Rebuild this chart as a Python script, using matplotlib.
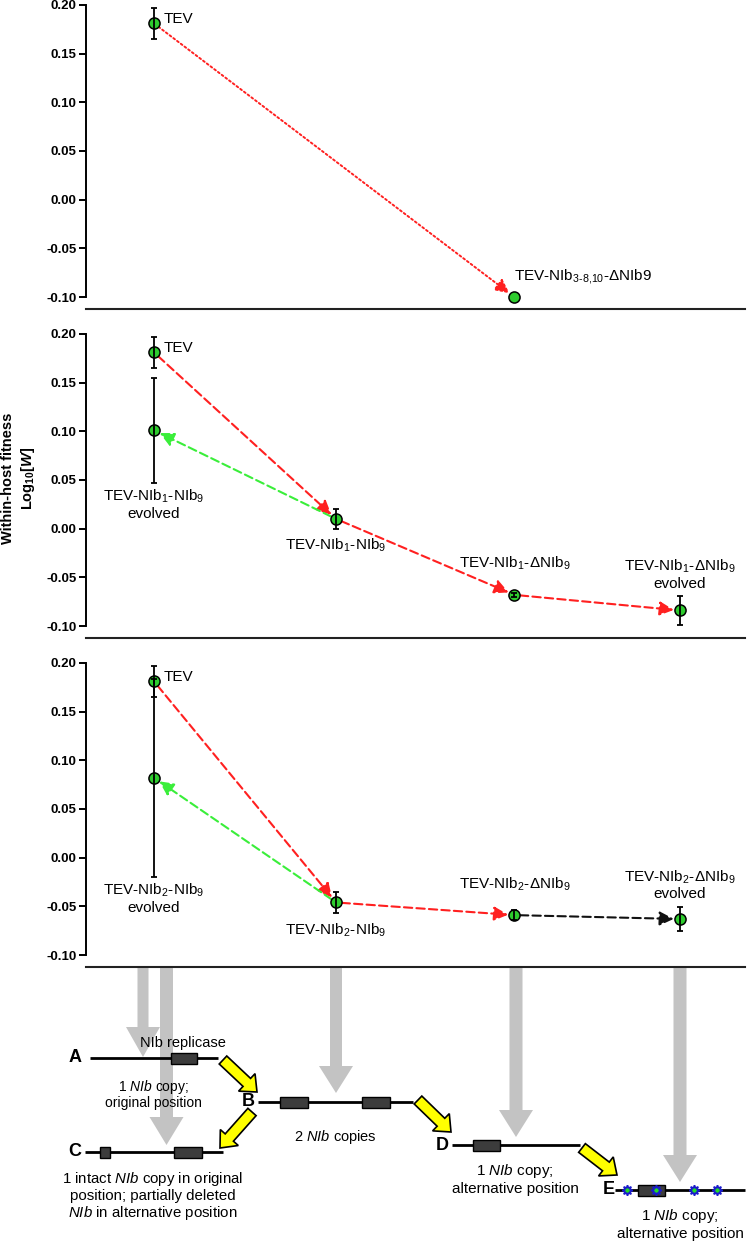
import numpy as np
import matplotlib
matplotlib.use('Agg')
import matplotlib.pyplot as plt
from matplotlib.patches import FancyArrow, Rectangle

plt.rcParams['font.family'] = ['Liberation Sans', 'DejaVu Sans']
plt.rcParams['mathtext.fontset'] = 'custom'
plt.rcParams['mathtext.rm'] = 'Liberation Sans'
plt.rcParams['mathtext.it'] = 'Liberation Sans:italic'
plt.rcParams['mathtext.bf'] = 'Liberation Sans:bold'
plt.rcParams['mathtext.bfit'] = 'Liberation Sans:italic:bold'

# x positions of the genotype columns
x_pos = [1.0, 2.0, 2.98, 3.89]

# panel 1 : TEV -> TEV-NIb3-8,10-dNIb9
p1_x = [x_pos[0], x_pos[2]]
p1_y = [0.181, -0.100]
p1_err = [0.016, 0.0]

# panel 2 : TEV, NIb1-NIb9 evolved, NIb1-NIb9, NIb1-dNIb9, NIb1-dNIb9 evolved
p2_x = [x_pos[0], x_pos[0], x_pos[1], x_pos[2], x_pos[3]]
p2_y = [0.181, 0.101, 0.010, -0.068, -0.084]
p2_err = [0.016, 0.054, 0.010, 0.002, 0.0145]

# panel 3 : TEV, NIb2-NIb9 evolved, NIb2-NIb9, NIb2-dNIb9, NIb2-dNIb9 evolved
p3_x = [x_pos[0], x_pos[0], x_pos[1], x_pos[2], x_pos[3]]
p3_y = [0.181, 0.082, -0.046, -0.059, -0.063]
p3_err = [0.016, 0.102, 0.011, 0.005, 0.0125]

y_ticks = [-0.10, -0.05, 0.00, 0.05, 0.10, 0.15, 0.20]

RED = '#ff2020'
GREEN = '#3aee3a'
BLACK = '#111111'
MARKER = '#2ecc2e'

W, H = 747, 1242
fig = plt.figure(figsize=(W / 100, H / 100), dpi=100)

# diagram layer (pixel coordinates)
ax_d = fig.add_axes([0, 0, 1, 1], zorder=-1)
ax_d.set_xlim(0, W)
ax_d.set_ylim(H, 0)
ax_d.axis('off')


def make_panel(top_px):
    left, right = 86, 745
    ax = fig.add_axes([left / W, 1 - (top_px + 309) / H, (right - left) / W, 309 / H])
    ax.set_xlim(0.626, 4.247)
    ax.set_ylim(-0.1123, 0.2051)
    ax.spines['top'].set_visible(False)
    ax.spines['right'].set_visible(False)
    ax.spines['left'].set_bounds(-0.10, 0.20)
    ax.spines['left'].set_linewidth(1.4)
    ax.spines['bottom'].set_linewidth(1.5)
    ax.spines['bottom'].set_color('#222222')
    ax.set_xticks([])
    ax.set_yticks(y_ticks)
    ax.set_yticklabels([f'{t:.2f}' for t in y_ticks], fontsize=9.5, fontweight='bold')
    ax.tick_params(axis='y', length=5, width=1.4, pad=2)
    ax.patch.set_alpha(0)
    return ax


def draw_points(ax, xs, ys, errs):
    ax.plot(xs, ys, 'o', ms=8, mfc=MARKER, mec='black', mew=1.1, zorder=4, clip_on=False)
    xe = [x for x, e in zip(xs, errs) if e > 0]
    ye = [y for y, e in zip(ys, errs) if e > 0]
    ee = [e for e in errs if e > 0]
    ax.errorbar(xe, ye, yerr=ee, fmt='none', ecolor='black', elinewidth=1.3,
                capsize=2.5, capthick=1.3, zorder=5, clip_on=False)


def link(ax, p0, p1, color, ls, lw=1.5):
    ax.annotate('', xy=p1, xytext=p0,
                arrowprops=dict(arrowstyle='-|>,head_length=0.85,head_width=0.42',
                                color=color, lw=lw, linestyle=ls,
                                shrinkA=4, shrinkB=4.5, mutation_scale=10),
                zorder=2)


def lab(ax, x, y, s, dx, dy, ha='center', va='center'):
    ax.annotate(s, xy=(x, y), xytext=(dx, dy), textcoords='offset points',
                ha=ha, va=va, fontsize=11, multialignment='center',
                linespacing=1.15, zorder=6)


# ---- panel 1
ax1 = make_panel(0)
draw_points(ax1, p1_x, p1_y, p1_err)
link(ax1, (p1_x[0], p1_y[0]), (p1_x[1], p1_y[1]), RED, (0, (1, 1.4)), lw=1.4)
lab(ax1, p1_x[0], p1_y[0], 'TEV', 7, 3, ha='left')
lab(ax1, p1_x[1], p1_y[1], 'TEV-NIb$_{\\text{3-8,10}}$-ΔNIb9', 0, 14.5, ha='left')

# ---- panel 2 and 3
panels = [(make_panel(329), p2_x, p2_y, p2_err, '1', RED),
          (make_panel(658), p3_x, p3_y, p3_err, '2', BLACK)]
for ax, xs, ys, errs, k, last_col in panels:
    draw_points(ax, xs, ys, errs)
    pts = list(zip(xs, ys))
    link(ax, pts[0], pts[2], RED, (0, (4, 2)))
    link(ax, pts[2], pts[1], GREEN, (0, (4, 2)))
    link(ax, pts[2], pts[3], RED, (0, (4, 2)))
    link(ax, pts[3], pts[4], last_col, (0, (4, 2)))
    lab(ax, xs[0], ys[0], 'TEV', 7, 3, ha='left')
    lab(ax, xs[1], ys[1] - errs[1], f'TEV-NIb$_{k}$-NIb$_9$\nevolved', 0, -3.5, va='top')
    lab(ax, xs[2], ys[2] - errs[2], f'TEV-NIb$_{k}$-NIb$_9$', 0, -6, va='top')
    lab(ax, xs[3], ys[3], f'TEV-NIb$_{k}$-ΔNIb$_9$', 0, 22.5)
    lab(ax, xs[4], ys[4] + errs[4], f'TEV-NIb$_{k}$-ΔNIb$_9$\nevolved', 0, 4, va='bottom')

fig.text(19 / W, 1 - 478 / H, 'Within-host fitness\nLog$_{\\mathbf{10}}$[$\\mathbfit{W}$]',
         rotation=90, fontsize=10.5, fontweight='bold', ha='center', va='center',
         multialignment='center', linespacing=1.35)

# ---- schematic of genome rearrangements
GRAY = '#c3c3c3'
gray_arrows = [(143, 1057, 11, 30), (166.5, 1145, 13, 28), (336, 1093, 12, 27),
               (516, 1137, 13, 27), (680, 1182, 13, 27)]
for gx, tip, sw, hl in gray_arrows:
    ax_d.add_patch(FancyArrow(gx, 968, 0, tip - 968, width=sw, head_width=34,
                              head_length=hl, length_includes_head=True,
                              color=GRAY, lw=0, zorder=1))

genomes = [
    ('A', 75, 1058, 90, 218, [(171, 197)]),
    ('B', 248, 1102, 258, 413, [(280, 308), (362, 390)]),
    ('C', 75, 1152, 85, 223, [(100, 110), (174, 202)]),
    ('D', 442, 1145, 452, 580, [(473, 500)]),
    ('E', 609, 1190, 615, 745, [(638, 665)]),
]
for letter, lx, gy, x0, x1, boxes in genomes:
    ax_d.plot([x0, x1], [gy, gy], color='black', lw=2, zorder=2, solid_capstyle='butt')
    for b0, b1 in boxes:
        ax_d.add_patch(Rectangle((b0, gy - 5.5), b1 - b0, 11, fc='#3c3c3c',
                                 ec='black', lw=1, zorder=3))
    ax_d.text(lx, gy, letter, fontsize=13, fontweight='bold', ha='center',
              va='center', zorder=4)

ax_d.plot([627, 656, 694, 717], [1190] * 4, linestyle='none', marker=(8, 1, 0),
          ms=7.5, mfc='#22dd22', mec='#1a1acc', mew=1.2, zorder=5)

yellow_arrows = [((223, 1060), (257, 1092)), ((252, 1112), (220, 1148)),
                 ((418, 1100), (451, 1132)), ((582, 1148), (617, 1175))]
for (ax0, ay0), (ax1_, ay1) in yellow_arrows:
    ax_d.add_patch(FancyArrow(ax0, ay0, ax1_ - ax0, ay1 - ay0, width=11,
                              head_width=24, head_length=14, length_includes_head=True,
                              fc='#ffff00', ec='black', lw=1.2, zorder=4))

captions = [
    (183, 1043, 'NIb replicase', 10.5, 1.2),
    (153, 1094, '1 $\\mathit{NIb}$ copy;\noriginal position', 10, 1.05),
    (335, 1137, '2 $\\mathit{NIb}$ copies', 10.5, 1.2),
    (153, 1196, '1 intact $\\mathit{NIb}$ copy in original\nposition; partially deleted\n$\\mathit{NIb}$ in alternative position', 10.8, 1.12),
    (515, 1179, '1 $\\mathit{NIb}$ copy;\nalternative position', 11, 1.12),
    (680, 1224, '1 $\\mathit{NIb}$ copy;\nalternative position', 11, 1.12),
]
for cx, cy, s, fs, lsp in captions:
    ax_d.text(cx, cy, s, fontsize=fs, ha='center', va='center',
              multialignment='center', linespacing=lsp, zorder=6)

fig.savefig('out.png', dpi=100)
